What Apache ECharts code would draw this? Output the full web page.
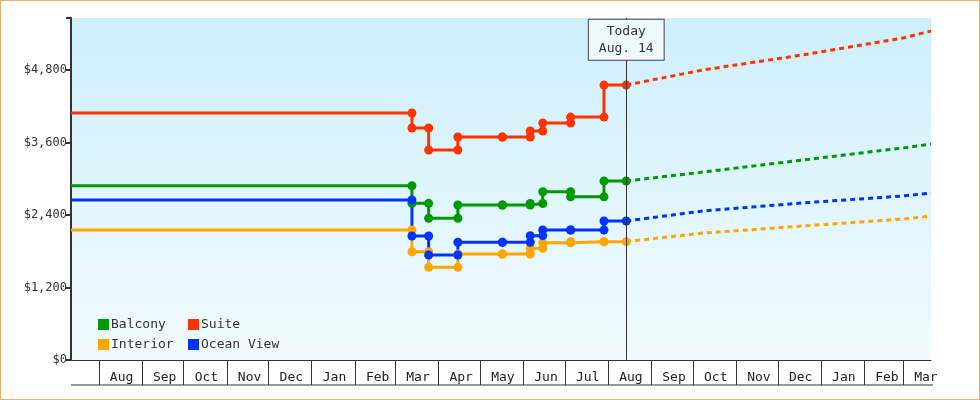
<!DOCTYPE html>
<html><head><meta charset="utf-8">
<script src="https://cdn.jsdelivr.net/npm/echarts@6/dist/echarts.min.js"></script>
<style>html,body{margin:0;padding:0;background:#fff}#c{width:978px;height:398px;border:1px solid #f0b070}</style>
</head><body><div id="c"></div>
<script>
var startDate='2023-07-12', endDate='2025-03-21', today='2024-08-14';
var changeDates=['2024-03-13','2024-03-25','2024-04-15','2024-05-17','2024-06-06','2024-06-15','2024-07-05','2024-07-29'];
var seriesNames=['Balcony','Suite','Interior','Ocean View'];
var colors=['#009900','#ff3300','#ffa500','#0033ff'];
// value before first change, then value after each change (null = no change)
var balcony=[2883,2593,2345,2565,2565,2590,2785,2700,2962];
var suite=[4088,3840,3475,3690,3690,3790,3922,4020,4550];
var interior=[2151,1792,1534,1754,1754,1849,1941,1959,1959];
var oceanView=[2648,2052,1738,1948,1948,2058,2151,2151,2300];
var forecastDates=['2024-08-14','2024-10-08','2024-12-19','2025-03-01','2025-03-21'];
var balconyF=[2962,3110,3310,3510,3575];
var suiteF=[4550,4800,5050,5330,5445];
var interiorF=[1959,2100,2218,2333,2383];
var oceanViewF=[2300,2466,2600,2715,2764];
var yTicks=[0,1200,2400,3600,4800];

function build(v){
  var d=[{value:[startDate,v[0]],symbol:'none'}];
  for(var i=0;i<changeDates.length;i++){
    d.push([changeDates[i],v[i]]);
    d.push([changeDates[i],v[i+1]]);
  }
  d.push([today,v[v.length-1]]);
  return d;
}
var hist=[balcony,suite,interior,oceanView], fc=[balconyF,suiteF,interiorF,oceanViewF];
var series=[];
hist.forEach(function(v,i){
  series.push({name:seriesNames[i],type:'line',data:build(v),symbol:'circle',symbolSize:9,
    lineStyle:{width:3,color:colors[i]},itemStyle:{color:colors[i]},z:3});
});
fc.forEach(function(v,i){
  series.push({name:seriesNames[i]+' forecast',type:'line',showSymbol:false,
    data:forecastDates.map(function(d,j){return [d,v[j]];}),
    lineStyle:{width:3,type:[5,4],color:colors[i]},z:2});
});
series[0].markLine={symbol:'none',silent:true,label:{show:false},lineStyle:{color:'#333',width:1,type:'solid'},data:[{xAxis:today}]};
series[0].markPoint={symbol:'rect',symbolSize:1,itemStyle:{color:'transparent'},
  label:{show:true,formatter:'Today\nAug. 14',fontFamily:'DejaVu Sans Mono',fontSize:13,color:'#333',lineHeight:17,
   backgroundColor:'#eef9fd',borderColor:'#444',borderWidth:1,padding:[3,10]},
  data:[{coord:[today,5300]}]};
var mono='DejaVu Sans Mono';
var chart=echarts.init(document.getElementById('c'));
chart.setOption({
  animation:false,
  grid:{left:70,right:48,top:17,bottom:39,show:true,borderWidth:0,
    backgroundColor:new echarts.graphic.LinearGradient(0,0,0,1,[{offset:0,color:'#cdeffb'},{offset:1,color:'#f2fbff'}])},
  legend:[
    {data:['Balcony','Interior'],orient:'vertical',left:92,top:312,itemGap:7,itemWidth:11,itemHeight:11,icon:'rect',
      textStyle:{fontFamily:mono,fontSize:13,color:'#333',padding:[0,0,0,-3]}},
    {data:['Suite','Ocean View'],orient:'vertical',left:182,top:312,itemGap:7,itemWidth:11,itemHeight:11,icon:'rect',
      textStyle:{fontFamily:mono,fontSize:13,color:'#333',padding:[0,0,0,-3]}}
  ],
  xAxis:{type:'time',min:startDate,max:endDate,minInterval:28*86400000,maxInterval:31*86400000,splitNumber:24,
    axisLine:{lineStyle:{color:'#333',width:1}},
    axisTick:{show:true,length:25,lineStyle:{color:'#333'}},
    axisLabel:{formatter:'{MMM}',align:'left',padding:[3,0,0,11],fontFamily:mono,fontSize:13,color:'#222',
      rich:{},showMinLabel:false,showMaxLabel:false},
    splitLine:{show:false}},
  yAxis:{type:'value',min:0,max:5660,interval:1200,
    axisLine:{show:true,lineStyle:{color:'#333',width:2}},
    axisTick:{show:true,length:5,lineStyle:{color:'#333',width:2}},
    axisLabel:{formatter:function(v){return yTicks.indexOf(v)<0?'':'$'+v.toLocaleString('en-US');},fontFamily:mono,fontSize:12,color:'#333',margin:4},
    splitLine:{show:false}},
  graphic:[{type:'line',shape:{x1:70,y1:384,x2:932,y2:384},style:{stroke:'#333',lineWidth:1}}],
  series:series
});
</script></body></html>
